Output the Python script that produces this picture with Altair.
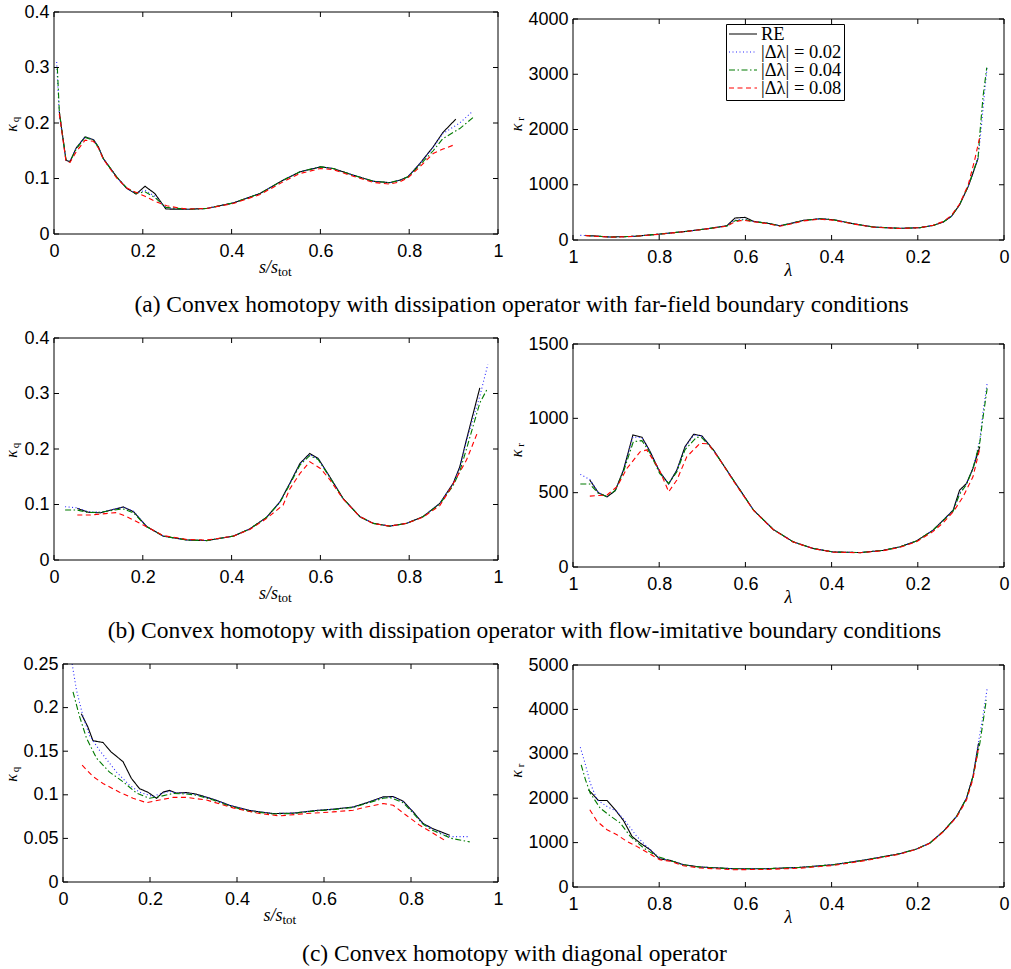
import altair as alt
import pandas as pd

SERIES = ["RE", "|Δλ| = 0.02", "|Δλ| = 0.04", "|Δλ| = 0.08"]
COLORS = ["#000000", "#2a2aff", "#007a00", "#ff0000"]
DASHES = [[1, 0], [1, 2.5], [6, 2.5, 1.5, 2.5], [5, 3.5]]
S_TICKS = [0, 0.2, 0.4, 0.6, 0.8, 1]

# (a) far-field boundary conditions: kappa_q against s/s_tot
A_Q_RE = [(0.012, 0.22), (0.027, 0.133), (0.036, 0.13), (0.05, 0.155), (0.07, 0.175), (0.089, 0.17),
          (0.1, 0.157), (0.111, 0.136), (0.141, 0.103), (0.164, 0.082), (0.185, 0.072), (0.205, 0.086),
          (0.227, 0.073), (0.252, 0.045), (0.3, 0.0445), (0.344, 0.046), (0.404, 0.056), (0.464, 0.073),
          (0.516, 0.097), (0.554, 0.112), (0.6, 0.121), (0.629, 0.118), (0.674, 0.106), (0.719, 0.095),
          (0.756, 0.0925), (0.779, 0.097), (0.797, 0.103), (0.824, 0.127), (0.854, 0.157), (0.876, 0.183),
          (0.905, 0.207)]
A_Q_02 = [(0.006, 0.31), (0.012, 0.215), (0.027, 0.133), (0.036, 0.131), (0.05, 0.155), (0.07, 0.175),
          (0.089, 0.17), (0.1, 0.157), (0.111, 0.136), (0.141, 0.103), (0.164, 0.082), (0.185, 0.073),
          (0.205, 0.079), (0.227, 0.068), (0.252, 0.047), (0.3, 0.0445), (0.344, 0.046), (0.404, 0.056),
          (0.464, 0.073), (0.516, 0.097), (0.554, 0.112), (0.6, 0.121), (0.629, 0.118), (0.674, 0.106),
          (0.719, 0.095), (0.756, 0.0925), (0.779, 0.097), (0.797, 0.103), (0.824, 0.127), (0.854, 0.156),
          (0.876, 0.181), (0.914, 0.2), (0.944, 0.222)]
A_Q_04 = [(0.0075, 0.30), (0.012, 0.22), (0.027, 0.134), (0.036, 0.131), (0.05, 0.153), (0.07, 0.174),
          (0.089, 0.169), (0.1, 0.156), (0.111, 0.136), (0.141, 0.103), (0.164, 0.083), (0.185, 0.073),
          (0.205, 0.076), (0.227, 0.066), (0.252, 0.048), (0.3, 0.0445), (0.344, 0.046), (0.404, 0.056),
          (0.464, 0.073), (0.516, 0.097), (0.554, 0.112), (0.6, 0.121), (0.629, 0.118), (0.674, 0.106),
          (0.719, 0.095), (0.756, 0.0925), (0.779, 0.097), (0.797, 0.103), (0.824, 0.124), (0.854, 0.15),
          (0.876, 0.172), (0.914, 0.19), (0.944, 0.21)]
A_Q_08 = [(0.012, 0.217), (0.027, 0.131), (0.036, 0.129), (0.05, 0.148), (0.07, 0.169), (0.089, 0.167),
          (0.1, 0.155), (0.111, 0.135), (0.141, 0.101), (0.164, 0.083), (0.185, 0.075), (0.205, 0.068),
          (0.227, 0.059), (0.254, 0.051), (0.28, 0.047), (0.3, 0.045), (0.344, 0.046), (0.404, 0.055),
          (0.464, 0.071), (0.516, 0.094), (0.554, 0.109), (0.6, 0.118), (0.629, 0.116), (0.674, 0.104),
          (0.719, 0.093), (0.756, 0.09), (0.779, 0.094), (0.797, 0.101), (0.824, 0.121), (0.854, 0.145),
          (0.876, 0.153), (0.899, 0.16)]

# (a) far-field boundary conditions: kappa_r against lambda
A_R_RE = [(0.971, 84), (0.914, 54), (0.859, 66), (0.798, 108), (0.736, 157), (0.682, 211), (0.643, 259),
          (0.624, 398), (0.601, 410), (0.581, 337), (0.551, 307), (0.52, 259), (0.497, 295), (0.466, 355),
          (0.427, 385), (0.396, 367), (0.35, 295), (0.303, 235), (0.242, 211), (0.195, 223), (0.164, 265),
          (0.141, 325), (0.122, 428), (0.103, 638), (0.083, 970), (0.072, 1210), (0.06, 1482)]
A_R_02 = [(0.983, 84), (0.971, 80), (0.914, 54), (0.859, 66), (0.798, 108), (0.736, 157), (0.682, 211),
          (0.643, 255), (0.624, 360), (0.601, 380), (0.581, 335), (0.551, 307), (0.52, 259), (0.497, 295),
          (0.466, 355), (0.427, 385), (0.396, 367), (0.35, 295), (0.303, 235), (0.242, 211), (0.195, 223),
          (0.164, 265), (0.141, 325), (0.122, 428), (0.103, 638), (0.083, 970), (0.072, 1210), (0.06, 1490),
          (0.0525, 2050), (0.046, 2600), (0.039, 3140)]
A_R_04 = [(0.971, 82), (0.914, 54), (0.859, 66), (0.798, 108), (0.736, 157), (0.682, 211), (0.643, 252),
          (0.624, 350), (0.601, 370), (0.581, 333), (0.551, 305), (0.52, 257), (0.497, 293), (0.466, 353),
          (0.427, 383), (0.396, 366), (0.35, 295), (0.303, 235), (0.242, 211), (0.195, 223), (0.164, 265),
          (0.141, 325), (0.122, 428), (0.103, 640), (0.083, 975), (0.072, 1220), (0.06, 1500), (0.056, 1930),
          (0.0486, 2600), (0.04, 3120)]
A_R_08 = [(0.971, 80), (0.914, 52), (0.859, 64), (0.798, 105), (0.736, 155), (0.682, 208), (0.643, 250),
          (0.624, 330), (0.612, 350), (0.601, 352), (0.581, 330), (0.551, 300), (0.52, 250), (0.497, 285),
          (0.466, 345), (0.427, 375), (0.396, 360), (0.35, 290), (0.303, 232), (0.242, 208), (0.195, 222),
          (0.164, 268), (0.141, 335), (0.122, 445), (0.103, 650), (0.083, 1000), (0.068, 1450), (0.056, 1870)]

# (b) flow-imitative boundary conditions: kappa_q against s/s_tot
B_Q_RE = [(0.0525, 0.093), (0.077, 0.086), (0.104, 0.085), (0.149, 0.094), (0.156, 0.0956), (0.179, 0.087),
          (0.209, 0.06), (0.246, 0.043), (0.3, 0.036), (0.344, 0.035), (0.404, 0.043), (0.441, 0.056),
          (0.479, 0.077), (0.509, 0.105), (0.531, 0.138), (0.554, 0.174), (0.576, 0.192), (0.595, 0.183),
          (0.621, 0.15), (0.651, 0.111), (0.689, 0.078), (0.719, 0.066), (0.756, 0.061), (0.794, 0.066),
          (0.831, 0.078), (0.869, 0.102), (0.899, 0.138), (0.914, 0.168), (0.929, 0.217), (0.959, 0.31)]
B_Q_02 = [(0.025, 0.096), (0.0525, 0.094), (0.077, 0.087), (0.104, 0.086), (0.149, 0.094), (0.156, 0.095),
          (0.179, 0.088), (0.209, 0.06), (0.246, 0.043), (0.3, 0.036), (0.344, 0.035), (0.404, 0.043),
          (0.441, 0.056), (0.479, 0.077), (0.509, 0.105), (0.531, 0.138), (0.554, 0.173), (0.576, 0.19),
          (0.595, 0.182), (0.621, 0.15), (0.651, 0.111), (0.689, 0.078), (0.719, 0.066), (0.756, 0.061),
          (0.794, 0.066), (0.831, 0.078), (0.869, 0.102), (0.899, 0.138), (0.914, 0.166), (0.929, 0.215),
          (0.959, 0.295), (0.977, 0.352)]
B_Q_04 = [(0.025, 0.09), (0.0525, 0.09), (0.077, 0.0855), (0.104, 0.086), (0.149, 0.0915), (0.156, 0.092),
          (0.179, 0.085), (0.209, 0.06), (0.246, 0.043), (0.3, 0.036), (0.344, 0.035), (0.404, 0.043),
          (0.441, 0.056), (0.479, 0.077), (0.509, 0.104), (0.531, 0.136), (0.554, 0.171), (0.576, 0.188),
          (0.595, 0.181), (0.621, 0.149), (0.651, 0.111), (0.689, 0.078), (0.719, 0.066), (0.756, 0.061),
          (0.794, 0.066), (0.831, 0.078), (0.869, 0.101), (0.899, 0.134), (0.914, 0.16), (0.929, 0.2),
          (0.959, 0.283), (0.975, 0.307)]
B_Q_08 = [(0.0525, 0.081), (0.081, 0.081), (0.141, 0.0855), (0.164, 0.078), (0.201, 0.063), (0.246, 0.044),
          (0.3, 0.037), (0.344, 0.036), (0.404, 0.043), (0.441, 0.055), (0.479, 0.075), (0.516, 0.099),
          (0.531, 0.128), (0.554, 0.156), (0.576, 0.177), (0.6, 0.165), (0.621, 0.145), (0.651, 0.11),
          (0.689, 0.078), (0.719, 0.066), (0.756, 0.061), (0.794, 0.066), (0.831, 0.077), (0.869, 0.098),
          (0.891, 0.126), (0.929, 0.18), (0.955, 0.232)]

# (b) flow-imitative boundary conditions: kappa_r against lambda
B_R_RE = [(0.961, 585), (0.941, 499), (0.921, 472), (0.902, 513), (0.883, 652), (0.861, 888), (0.84, 873),
          (0.821, 776), (0.799, 641), (0.778, 558), (0.759, 652), (0.74, 810), (0.72, 893), (0.701, 882),
          (0.674, 787), (0.628, 585), (0.581, 382), (0.535, 252), (0.489, 169), (0.442, 124), (0.396, 101),
          (0.334, 97), (0.28, 112), (0.242, 135), (0.203, 175), (0.165, 247), (0.141, 315), (0.118, 382),
          (0.103, 517), (0.087, 562), (0.072, 663), (0.056, 810)]
B_R_02 = [(0.983, 623), (0.961, 589), (0.941, 500), (0.921, 474), (0.902, 515), (0.883, 650), (0.861, 875),
          (0.84, 870), (0.821, 775), (0.799, 640), (0.778, 560), (0.759, 650), (0.74, 805), (0.72, 888),
          (0.701, 880), (0.674, 787), (0.628, 585), (0.581, 382), (0.535, 252), (0.489, 169), (0.442, 124),
          (0.396, 101), (0.334, 97), (0.28, 112), (0.242, 135), (0.203, 175), (0.165, 247), (0.141, 315),
          (0.118, 380), (0.103, 500), (0.087, 560), (0.072, 663), (0.056, 855), (0.049, 1035), (0.039, 1237)]
B_R_04 = [(0.983, 558), (0.961, 558), (0.941, 495), (0.921, 474), (0.902, 515), (0.883, 640), (0.86, 843),
          (0.84, 850), (0.821, 765), (0.799, 630), (0.778, 562), (0.759, 640), (0.74, 790), (0.713, 873),
          (0.701, 870), (0.674, 785), (0.628, 585), (0.581, 382), (0.535, 252), (0.489, 169), (0.442, 124),
          (0.396, 101), (0.334, 97), (0.28, 112), (0.242, 135), (0.203, 175), (0.165, 247), (0.141, 312),
          (0.118, 375), (0.103, 490), (0.087, 555), (0.072, 663), (0.056, 840), (0.049, 1000), (0.039, 1203)]
B_R_08 = [(0.961, 477), (0.921, 484), (0.898, 540), (0.875, 663), (0.844, 776), (0.829, 787), (0.801, 663),
          (0.778, 506), (0.759, 585), (0.736, 742), (0.705, 832), (0.686, 828), (0.659, 720), (0.628, 580),
          (0.581, 380), (0.535, 250), (0.489, 168), (0.442, 123), (0.396, 100), (0.334, 96), (0.28, 110),
          (0.242, 132), (0.203, 170), (0.165, 238), (0.141, 298), (0.118, 370), (0.095, 472), (0.072, 607),
          (0.056, 798)]

# (c) diagonal operator: kappa_q against s/s_tot
C_Q_RE = [(0.042, 0.193), (0.057, 0.178), (0.069, 0.162), (0.092, 0.16), (0.111, 0.149), (0.138, 0.138),
          (0.157, 0.119), (0.176, 0.107), (0.195, 0.103), (0.215, 0.096), (0.23, 0.103), (0.245, 0.105),
          (0.26, 0.102), (0.284, 0.1026), (0.307, 0.1007), (0.345, 0.095), (0.383, 0.088), (0.429, 0.082),
          (0.483, 0.0785), (0.529, 0.079), (0.582, 0.082), (0.621, 0.0835), (0.667, 0.086), (0.697, 0.0907),
          (0.736, 0.0976), (0.759, 0.098), (0.782, 0.0927), (0.805, 0.0804), (0.828, 0.067), (0.851, 0.061),
          (0.889, 0.0536)]
C_Q_02 = [(0.021, 0.25), (0.031, 0.22), (0.046, 0.19), (0.061, 0.168), (0.084, 0.151), (0.123, 0.126),
          (0.153, 0.111), (0.176, 0.103), (0.207, 0.098), (0.222, 0.101), (0.245, 0.104), (0.26, 0.102),
          (0.284, 0.102), (0.307, 0.1), (0.345, 0.095), (0.383, 0.088), (0.429, 0.082), (0.483, 0.0785),
          (0.529, 0.079), (0.582, 0.082), (0.621, 0.0835), (0.667, 0.086), (0.697, 0.0905), (0.736, 0.097),
          (0.759, 0.0975), (0.782, 0.092), (0.805, 0.08), (0.828, 0.067), (0.851, 0.06), (0.889, 0.052),
          (0.935, 0.052)]
C_Q_04 = [(0.023, 0.218), (0.038, 0.19), (0.054, 0.165), (0.077, 0.142), (0.107, 0.126), (0.138, 0.115),
          (0.169, 0.102), (0.199, 0.096), (0.222, 0.098), (0.253, 0.1015), (0.284, 0.101), (0.307, 0.0995),
          (0.345, 0.094), (0.383, 0.087), (0.429, 0.081), (0.483, 0.078), (0.529, 0.0785), (0.582, 0.0815),
          (0.621, 0.083), (0.667, 0.0855), (0.697, 0.09), (0.736, 0.096), (0.751, 0.097), (0.782, 0.091),
          (0.805, 0.079), (0.828, 0.066), (0.851, 0.059), (0.893, 0.05), (0.935, 0.046)]
C_Q_08 = [(0.044, 0.134), (0.069, 0.121), (0.092, 0.113), (0.13, 0.103), (0.161, 0.096), (0.192, 0.091),
          (0.222, 0.094), (0.253, 0.097), (0.284, 0.097), (0.33, 0.094), (0.391, 0.085), (0.452, 0.0785),
          (0.498, 0.0758), (0.559, 0.0785), (0.621, 0.0804), (0.667, 0.0823), (0.697, 0.086), (0.736, 0.09),
          (0.759, 0.088), (0.789, 0.0766), (0.82, 0.065), (0.851, 0.056), (0.881, 0.0467)]

# (c) diagonal operator: kappa_r against lambda
C_R_RE = [(0.964, 2189), (0.941, 1949), (0.921, 1949), (0.902, 1739), (0.883, 1499), (0.863, 1139),
          (0.844, 989), (0.821, 840), (0.799, 630), (0.775, 600), (0.744, 502), (0.705, 450), (0.628, 412),
          (0.551, 412), (0.473, 442), (0.396, 502), (0.319, 615), (0.242, 750), (0.203, 855), (0.172, 990),
          (0.141, 1252), (0.11, 1589), (0.087, 2001), (0.072, 2489), (0.059, 3238)]
C_R_02 = [(0.983, 3148), (0.971, 2751), (0.96, 2339), (0.944, 1964), (0.921, 1814), (0.898, 1702),
          (0.875, 1439), (0.852, 1139), (0.829, 914), (0.799, 652), (0.775, 600), (0.744, 502), (0.705, 450),
          (0.628, 412), (0.551, 412), (0.473, 442), (0.396, 502), (0.319, 615), (0.242, 750), (0.203, 855),
          (0.172, 990), (0.141, 1252), (0.11, 1589), (0.087, 2001), (0.072, 2489), (0.059, 3276),
          (0.049, 3838), (0.039, 4475)]
C_R_04 = [(0.981, 2751), (0.971, 2414), (0.96, 2114), (0.937, 1776), (0.914, 1604), (0.89, 1439),
          (0.867, 1139), (0.836, 877), (0.805, 690), (0.775, 600), (0.744, 500), (0.705, 448), (0.628, 410),
          (0.551, 410), (0.473, 440), (0.396, 500), (0.319, 612), (0.242, 748), (0.203, 855), (0.172, 990),
          (0.141, 1252), (0.11, 1589), (0.087, 2001), (0.072, 2489), (0.056, 3238), (0.041, 4213)]
C_R_08 = [(0.961, 1739), (0.944, 1477), (0.921, 1289), (0.898, 1177), (0.875, 1027), (0.852, 915),
          (0.825, 765), (0.799, 615), (0.775, 580), (0.744, 480), (0.705, 427), (0.628, 390), (0.551, 395),
          (0.473, 425), (0.396, 485), (0.319, 600), (0.242, 740), (0.203, 850), (0.172, 985), (0.141, 1240),
          (0.11, 1570), (0.087, 1960), (0.072, 2430), (0.06, 3088)]

CAPTIONS = [
    "(a) Convex homotopy with dissipation operator with far-field boundary conditions",
    "(b) Convex homotopy with dissipation operator with flow-imitative boundary conditions",
    "(c) Convex homotopy with diagonal operator",
]

SANS = "Liberation Sans"
SERIF = "Liberation Serif"
TICK_LEN = 5


def series_frame(groups):
    rows = []
    for name, pts in zip(SERIES, groups):
        for i, (x, y) in enumerate(pts):
            rows.append({"x": x, "y": y, "series": name, "order": i})
    return pd.DataFrame(rows)


def panel(groups, w, h, y_ticks, lam, sub, kappa_x, kappa_dy, left=0, top=0, legend=False):
    """One framed axes box; `left`/`top` inset the box inside its view."""
    y_max = y_ticks[-1]
    x_scale = alt.Scale(domain=[1, 0] if lam else [0, 1], range=[left, left + w], nice=False, zero=False)
    y_scale = alt.Scale(domain=[0, y_max], range=[top + h, top], nice=False)

    if legend:
        leg = alt.Legend(orient="none", legendX=153, legendY=12, title=None, strokeColor="black",
                         fillColor="white", padding=2, cornerRadius=0, symbolType="stroke",
                         symbolSize=784, symbolStrokeWidth=1.1, labelFont=SERIF, labelFontSize=18.5,
                         labelColor="black", labelLimit=0, labelOffset=3, rowPadding=-3,
                         clipHeight=16, offset=0)
    else:
        leg = None

    lines = alt.Chart(series_frame(groups)).mark_line(strokeWidth=1.1, clip=True).encode(
        x=alt.X("x:Q", scale=x_scale,
                axis=alt.Axis(values=S_TICKS, format="~r", title=None, ticks=False, domain=False,
                              grid=False, labelFont=SANS, labelFontSize=18, labelColor="black",
                              labelPadding=8, labelFlush=False, labelOverlap=False)),
        y=alt.Y("y:Q", scale=y_scale,
                axis=alt.Axis(values=y_ticks, format="~r", title=None, ticks=False, domain=False,
                              grid=False, labelFont=SANS, labelFontSize=18, labelColor="black",
                              labelPadding=5, labelOverlap=False, offset=-left)),
        color=alt.Color("series:N", scale=alt.Scale(domain=SERIES, range=COLORS), legend=leg),
        strokeDash=alt.StrokeDash("series:N", scale=alt.Scale(domain=SERIES, range=DASHES), legend=leg),
        order="order:Q",
    )

    base = alt.Chart(pd.DataFrame({"k": [0]}))
    frame = base.mark_rect(filled=False, stroke="black", strokeWidth=1).encode(
        x=alt.datum(0), x2=alt.datum(1), y=alt.datum(0), y2=alt.datum(y_max))

    xt = pd.DataFrame({"x": S_TICKS})
    yt = pd.DataFrame({"y": y_ticks})
    rule = dict(color="black", strokeWidth=1)
    ticks = [
        alt.Chart(xt).mark_rule(**rule).encode(x="x:Q", y=alt.value(top + h), y2=alt.value(top + h - TICK_LEN)),
        alt.Chart(xt).mark_rule(**rule).encode(x="x:Q", y=alt.value(top), y2=alt.value(top + TICK_LEN)),
        alt.Chart(yt).mark_rule(**rule).encode(y="y:Q", x=alt.value(left), x2=alt.value(left + TICK_LEN)),
        alt.Chart(yt).mark_rule(**rule).encode(y="y:Q", x=alt.value(left + w), x2=alt.value(left + w - TICK_LEN)),
    ]

    # rotated y-axis title: kappa with a subscript
    yc = top + h / 2 + kappa_dy
    kappa = base.mark_text(text="κ", font=SERIF, fontStyle="italic", fontSize=16, angle=270,
                           align="center", baseline="alphabetic", color="black").encode(
        x=alt.value(kappa_x), y=alt.value(yc))
    kappa_sub = base.mark_text(text=sub, font=SERIF, fontSize=11, angle=270, align="center",
                               baseline="alphabetic", color="black").encode(
        x=alt.value(kappa_x + 2), y=alt.value(yc - 8.5))
    xc = left + w / 2
    if lam:
        xlab = [base.mark_text(text="λ", font=SERIF, fontStyle="italic", fontSize=18, align="center",
                               baseline="alphabetic", color="black").encode(
            x=alt.value(xc), y=alt.value(top + h + 36))]
    else:
        xlab = [
            base.mark_text(text="s/s", font=SERIF, fontStyle="italic", fontSize=18, align="right",
                           baseline="alphabetic", color="black").encode(
                x=alt.value(xc + 2), y=alt.value(top + h + 39)),
            base.mark_text(text="tot", font=SERIF, fontSize=13, align="left",
                           baseline="alphabetic", color="black").encode(
                x=alt.value(xc + 2), y=alt.value(top + h + 42)),
        ]
    layers = [lines, frame] + ticks + [kappa, kappa_sub] + xlab
    return alt.layer(*layers).properties(width=left + w, height=top + h)


def caption(i, dx, offset):
    return alt.TitleParams(CAPTIONS[i], orient="bottom", font=SERIF, fontSize=23.5, fontWeight="normal",
                           color="black", anchor="middle", offset=offset, dx=dx)


def row(left_chart, right_chart, title):
    return alt.hconcat(left_chart, right_chart, spacing=5, title=title).resolve_scale(
        color="independent", strokeDash="independent").resolve_legend(
        color="independent", strokeDash="independent")


row_a = row(
    panel([A_Q_RE, A_Q_02, A_Q_04, A_Q_08], 444, 222, [0, 0.1, 0.2, 0.3, 0.4], False, "q", -37, 5),
    panel([A_R_RE, A_R_02, A_R_04, A_R_08], 431, 221, [0, 1000, 2000, 3000, 4000], True, "r", -51, -2,
          top=7, legend=True),
    caption(0, 15, 13),
)
row_b = row(
    panel([B_Q_RE, B_Q_02, B_Q_04, B_Q_08], 444, 222, [0, 0.1, 0.2, 0.3, 0.4], False, "q", -37, 5),
    panel([B_R_RE, B_R_02, B_R_04, B_R_08], 431, 223, [0, 500, 1000, 1500], True, "r", -51, -2, top=6),
    caption(1, 18, 12),
)
row_c = row(
    panel([C_Q_RE, C_Q_02, C_Q_04, C_Q_08], 435, 218, [0, 0.05, 0.1, 0.15, 0.2, 0.25], False, "q", -37, 5,
          left=9),
    panel([C_R_RE, C_R_02, C_R_04, C_R_08], 431, 222, [0, 1000, 2000, 3000, 4000, 5000], True, "r", -51, -2,
          top=1),
    caption(2, 8, 15),
)

chart = alt.vconcat(row_a, row_b, row_c, spacing=12).resolve_scale(
    color="independent", strokeDash="independent").resolve_legend(
    color="independent", strokeDash="independent").properties(
    padding={"left": 4, "top": 3, "right": 0, "bottom": 0}, background="white",
).configure_view(strokeWidth=0)

chart.save("out.html", embed_options={"renderer": "svg", "actions": False})
